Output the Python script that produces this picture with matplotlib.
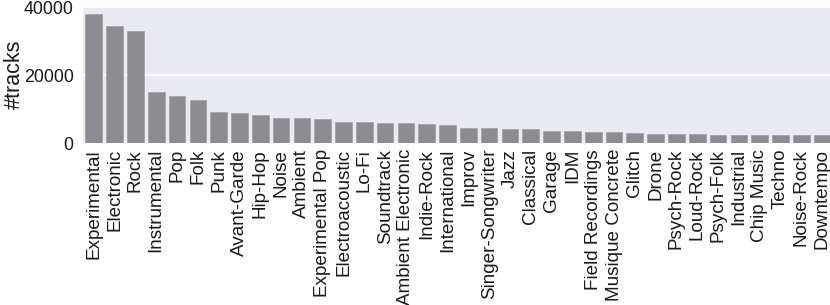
import matplotlib
matplotlib.use("Agg")
import matplotlib.pyplot as plt

genres = ["Experimental", "Electronic", "Rock", "Instrumental", "Pop", "Folk", "Punk",
          "Avant-Garde", "Hip-Hop", "Noise", "Ambient", "Experimental Pop",
          "Electroacoustic", "Lo-Fi", "Soundtrack", "Ambient Electronic", "Indie-Rock",
          "International", "Improv", "Singer-Songwriter", "Jazz", "Classical", "Garage",
          "IDM", "Field Recordings", "Musique Concrete", "Glitch", "Drone", "Psych-Rock",
          "Loud-Rock", "Psych-Folk", "Industrial", "Chip Music", "Techno", "Noise-Rock",
          "Downtempo"]
tracks = [38150, 34420, 32900, 15000, 13900, 12850, 9350, 8780, 8480, 7410, 7330, 7300,
          6240, 6190, 6040, 5860, 5560, 5360, 4480, 4380, 4280, 4270, 3690,
          3600, 3400, 3220, 3020, 2820, 2720, 2720, 2520, 2520, 2430, 2430, 2340, 2340]
yticks = [0, 20000, 40000]

plt.rcParams['font.family'] = ['Liberation Sans', 'DejaVu Sans']

fig = plt.figure(figsize=(8.3, 3.05), dpi=100)
ax = fig.add_axes([0.1005, 0.530, 0.9025, 0.446])
ax.set_facecolor('#EAEAF2')
x = list(range(len(genres)))
ax.bar(x, tracks, width=0.8, color='#8d8c91', edgecolor='#a5a4a9', linewidth=0.6, zorder=2)
ax.set_xlim(-0.5, len(genres) - 0.5)
ax.set_ylim(0, 40000)
ax.set_yticks(yticks)
ax.set_yticklabels([str(v) for v in yticks])
ax.set_xticks(x)
ax.set_xticklabels(genres, rotation=90)
ax.yaxis.grid(True, color='white', linewidth=1.2, zorder=1)
ax.xaxis.grid(False)
ax.set_axisbelow(True)
for s in ax.spines.values():
    s.set_visible(False)
ax.tick_params(axis='y', length=0, labelsize=12.9, colors='#1a1a1a', pad=7)
ax.tick_params(axis='x', length=0, labelsize=13.6, colors='#1a1a1a', pad=4)
ax.set_ylabel('#tracks', fontsize=15.5, color='#1a1a1a')
ax.yaxis.set_label_coords(-0.078, 0.51)

fig.savefig('out.png', dpi=100)
